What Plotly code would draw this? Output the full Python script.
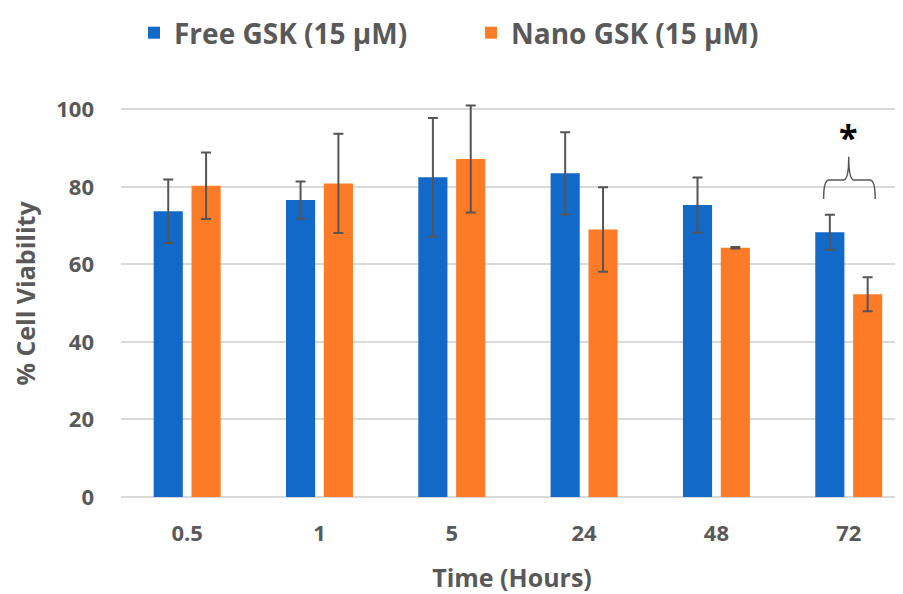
import plotly.graph_objects as go

categories = ["0.5", "1", "5", "24", "48", "72"]
free_vals = [73.7, 76.6, 82.5, 83.5, 75.3, 68.3]
free_err = [8.2, 4.8, 15.3, 10.6, 7.1, 4.5]
nano_vals = [80.3, 80.9, 87.2, 69.0, 64.3, 52.3]
nano_err = [8.6, 12.8, 13.8, 10.9, 0.2, 4.4]
y_ticks = [0, 20, 40, 60, 80, 100]

FONT = "Open Sans"
GRAY = "#595959"
x_idx = list(range(len(categories)))

# the page body has an 8px margin, so the figure is sized to fit the window
W, H = 895, 586

fig = go.Figure()
fig.add_trace(go.Bar(
    x=x_idx, y=free_vals, name="Free GSK (15 µM)",
    marker=dict(color="#1369C7", line=dict(width=0)),
    error_y=dict(type="data", array=free_err, visible=True,
                 color="#555555", thickness=2, width=5),
))
fig.add_trace(go.Bar(
    x=x_idx, y=nano_vals, name="Nano GSK (15 µM)",
    marker=dict(color="#FD7B26", line=dict(width=0)),
    error_y=dict(type="data", array=nano_err, visible=True,
                 color="#555555", thickness=2, width=5),
))

# significance brace over the 72 h group
xc = 5
x0, x1 = xc - 0.19, xc + 0.20
y_end, y_mid, y_tip = 76.9, 81.8, 87.8
dx = 0.04
path = (f"M {x0},{y_end} Q {x0},{y_mid} {x0+dx},{y_mid} "
        f"L {xc-dx},{y_mid} Q {xc},{y_mid} {xc},{y_tip} "
        f"Q {xc},{y_mid} {xc+dx},{y_mid} "
        f"L {x1-dx},{y_mid} Q {x1},{y_mid} {x1},{y_end}")
fig.add_shape(type="path", path=path, xref="x", yref="y",
              line=dict(color="#555555", width=1.5))
fig.add_annotation(x=xc, y=93.0, xref="x", yref="y", text="<b>*</b>",
                   showarrow=False, font=dict(family=FONT, size=34, color="black"),
                   yanchor="middle")

fig.update_layout(
    width=W, height=H,
    paper_bgcolor="white", plot_bgcolor="white",
    margin=dict(l=113, r=0, t=82, b=97, autoexpand=False),
    barmode="group", bargap=0.428, bargroupgap=0.23,
    showlegend=True,
    legend=dict(orientation="h", xref="container", yref="container",
                x=126 / W, y=1.0, xanchor="left", yanchor="top",
                font=dict(family=FONT, size=28, color=GRAY, weight="bold"),
                itemwidth=30, entrywidth=292, tracegroupgap=0, traceorder="normal"),
    font=dict(family=FONT, color=GRAY),
)
fig.update_xaxes(
    range=[-0.5, 5.41], tickvals=x_idx, ticktext=categories,
    showgrid=False, zeroline=False, showline=False, ticks="",
    tickfont=dict(family=FONT, size=22, color=GRAY, weight="bold"),
    ticklabelstandoff=21,
    title=dict(text="<b>Time (Hours)</b>", font=dict(family=FONT, size=25, color=GRAY),
               standoff=24),
)
fig.update_yaxes(
    range=[0, 105], tickvals=y_ticks,
    showgrid=True, gridcolor="#D9D9D9", gridwidth=1.5,
    zeroline=True, zerolinecolor="#D9D9D9", zerolinewidth=1.5,
    showline=False, ticks="",
    tickfont=dict(family=FONT, size=22, color=GRAY, weight="bold"),
    ticklabelstandoff=26,
    title=dict(text="<b>% Cell Viability</b>", font=dict(family=FONT, size=25, color=GRAY),
               standoff=14),
)

fig.write_html("out.html")
